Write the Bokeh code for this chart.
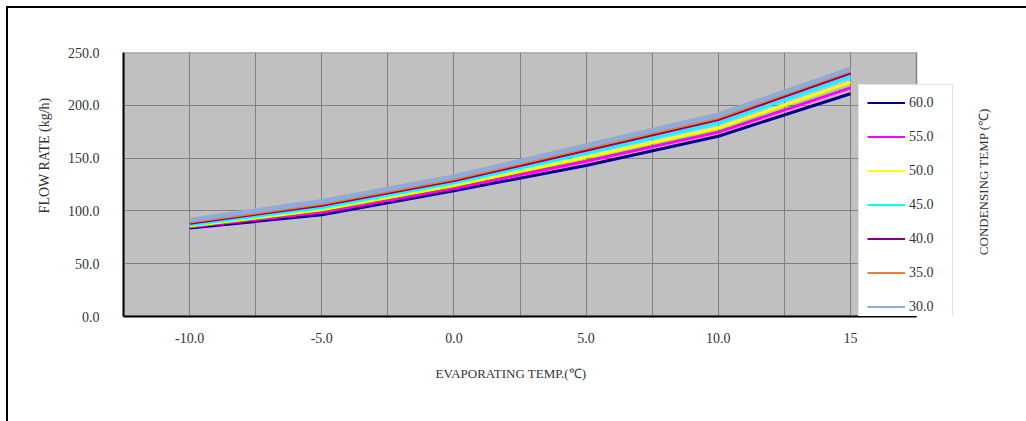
import math
from bokeh.plotting import figure
from bokeh.models import (Range1d, FixedTicker, Legend, LegendItem, Label, Title, Grid)
from bokeh.embed import file_html
from bokeh.resources import INLINE

# ---------------- data ----------------
evap_temp = [-10, -5, 0, 5, 10, 15]
cond_labels = ["60.0", "55.0", "50.0", "45.0", "40.0", "35.0", "30.0"]
flow_60 = [83.8, 96.3, 119.0, 143.0, 170.7, 210.9]
flow_55 = [84.8, 98.8, 121.5, 147.1, 174.6, 216.5]
flow_50 = [85.7, 101.0, 124.0, 151.0, 178.7, 221.9]
flow_45 = [86.6, 103.2, 126.6, 154.7, 183.4, 227.3]
flow_40 = [88.0, 105.1, 128.5, 157.2, 186.3, 230.4]
flow_35 = [89.0, 106.2, 129.7, 158.8, 187.8, 232.0]
flow_30 = [91.4, 109.1, 132.7, 161.9, 191.1, 234.5]
series = [flow_60, flow_55, flow_50, flow_45, flow_40, flow_35, flow_30]

x_tick_values = [-10, -5, 0, 5, 10, 15]
x_tick_labels = ["-10.0", "-5.0", "0.0", "5.0", "10.0", "15"]
y_tick_values = [0, 50, 100, 150, 200, 250]
y_tick_labels = ["0.0", "50.0", "100.0", "150.0", "200.0", "250.0"]

x_label = "EVAPORATING TEMP.(℃)"
y_label = "FLOW RATE (kg/h)"
legend_title = "CONDENSING TEMP (℃)"

# ---------------- layout / styles ----------------
colors = ["#000080", "#FF00FF", "#FFFF00", "#00FFFF", "#800080", "#ED7D31", "#8FAADC"]
widths = [3, 3, 3, 3, 2.5, 2, 4.5]
FONT = "Liberation Serif"
TXT = "#333333"

X0, X1 = -12.5, 17.5          # plot-area x extent (data)
Y0, Y1 = 0, 250
AREA_W, FRAME_W, FRAME_H = 793, 903, 264
x_end = X0 + (X1 - X0) * FRAME_W / AREA_W

p = figure(width=1026, height=421, frame_width=FRAME_W, frame_height=FRAME_H,
           min_border_left=123, min_border_right=0,
           min_border_top=52, min_border_bottom=105,
           x_range=Range1d(X0, x_end), y_range=Range1d(Y0, Y1),
           output_backend="svg", toolbar_location=None)

p.background_fill_color = None
p.border_fill_color = None
p.outline_line_color = None
p.styles = {"box-shadow": "inset 6px 6px 0 0 #ffffff, inset 8px 8px 0 0 #000000",
            "background-color": "#ffffff"}

# gray plot area
p.quad(left=[X0], right=[X1], bottom=[Y0], top=[Y1],
       fill_color="#C0C0C0", line_color="#808080", line_width=1.5, level="image")

# axes
p.xaxis.ticker = FixedTicker(ticks=x_tick_values)
p.xaxis.major_label_overrides = {v: s for v, s in zip(x_tick_values, x_tick_labels)}
p.xaxis.bounds = (X0, X1)
p.yaxis.ticker = FixedTicker(ticks=y_tick_values)
p.yaxis.major_label_overrides = {v: s for v, s in zip(y_tick_values, y_tick_labels)}
for ax in (p.xaxis, p.yaxis):
    ax.major_tick_in = 0
    ax.major_tick_out = 0
    ax.minor_tick_in = 0
    ax.minor_tick_out = 0
    ax.axis_line_color = "black"
    ax.axis_line_width = 2
    ax.major_label_text_font = FONT
    ax.major_label_text_font_size = "14px"
    ax.major_label_text_color = TXT
p.xaxis.major_label_standoff = 16
p.yaxis.major_label_standoff = 24

# grid
p.xgrid.ticker = FixedTicker(ticks=[-10 + 2.5 * i for i in range(11)])
p.ygrid.ticker = FixedTicker(ticks=y_tick_values[1:-1])
if "cross_bounds" in Grid.properties():
    p.ygrid.cross_bounds = (X0, X1)
    p.xgrid.cross_bounds = (Y0, Y1)
for g in (p.xgrid, p.ygrid):
    g.grid_line_color = "#808080"
    g.grid_line_width = 1

# lines
items = []
for ys, c, w in zip(series, colors, widths):
    p.line(evap_temp, ys, line_color=c, line_width=w)
for lab, ys, c in zip(cond_labels, series, colors):
    r_leg = p.line(evap_temp, ys, line_color=c, line_width=2, visible=False)
    items.append(LegendItem(label=lab, renderers=[r_leg]))

legend = Legend(items=items, location=(735, -9),
                glyph_width=38, glyph_height=19, label_height=19,
                label_width=35, label_standoff=4, spacing=15, padding=8,
                border_line_color="#C8C8C8", border_line_width=1,
                background_fill_color="white", background_fill_alpha=1,
                label_text_font=FONT, label_text_font_size="14px",
                label_text_color=TXT)
p.add_layout(legend)

# x-axis title
p.add_layout(Title(text=x_label, align="left", offset=312, vertical_align="top",
                   standoff=40, text_font=FONT, text_font_size="13px",
                   text_font_style="normal", text_color=TXT), "below")

# y-axis title
p.add_layout(Title(text=y_label, align="right", offset=45, vertical_align="bottom",
                   standoff=26, text_font=FONT, text_font_size="14px",
                   text_font_style="normal", text_color=TXT), "left")

# legend title (rotated, right side)
p.add_layout(Label(x=860, y=135, x_units="screen", y_units="screen",
                   text=legend_title, angle=math.pi / 2,
                   text_align="center", text_baseline="middle",
                   text_font=FONT, text_font_size="13px", text_color=TXT))

open("out.html", "w").write(file_html(p, INLINE))
